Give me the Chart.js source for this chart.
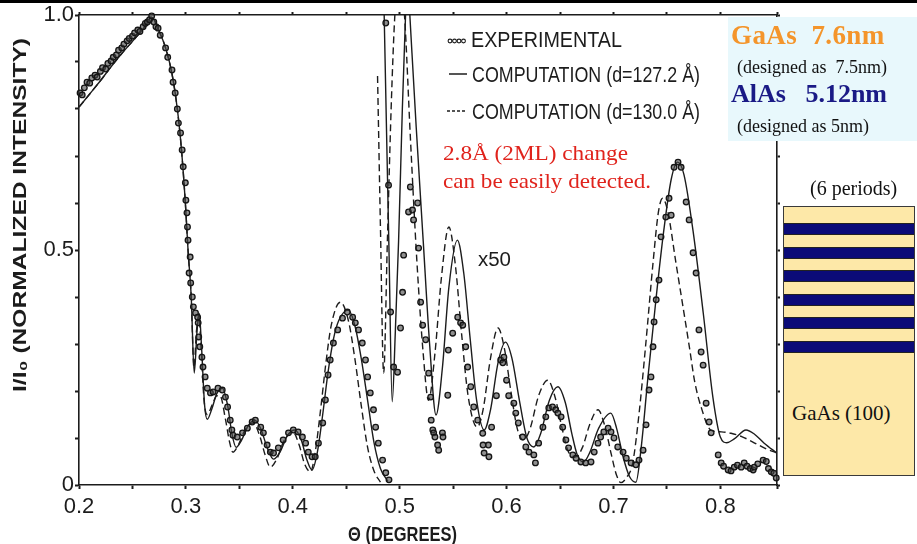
<!DOCTYPE html>
<html>
<head>
<meta charset="utf-8">
<script src="https://cdn.jsdelivr.net/npm/chart.js@4.4.1/dist/chart.umd.min.js"></script>
<style>
  html, body { margin: 0; padding: 0; background: #fff; }
  #wrap { position: relative; width: 917px; height: 544px; overflow: hidden; background: #fff; }
  #topbar { position: absolute; left: 0; top: 0; width: 917px; height: 3px; background: #000; }
  #chart { position: absolute; left: 0; top: 0; }
  .serif { position: absolute; font-family: "Liberation Serif", "Times New Roman", serif; white-space: pre; line-height: 1; }
  #infoBox { position: absolute; left: 728px; top: 17px; width: 189px; height: 124px; background: #e8f8fc; }
  #stack { position: absolute; left: 783px; top: 206px; width: 130px; height: 268px; background: #fde8a8; border: 1px solid #3a3a3a; }
  .stripe { position: absolute; left: 0; width: 130px; height: 10px; background: #0b0b78; border-top: 1px solid #222; border-bottom: 1px solid #222; }
</style>
</head>
<body>
<div id="wrap">
  <canvas id="chart" width="917" height="544"></canvas>
  <div id="topbar"></div>

  <div id="infoBox"></div>
  <div class="serif" style="left:731px; top:22px; font-size:27px; font-weight:bold; color:#f4952b; letter-spacing:0.4px;">GaAs  7.6nm</div>
  <div class="serif" style="left:737px; top:58px; font-size:18px; color:#111;">(designed as  7.5nm)</div>
  <div class="serif" style="left:731px; top:81px; font-size:26px; font-weight:bold; color:#1a1a86;">AlAs   5.12nm</div>
  <div class="serif" style="left:737px; top:117px; font-size:18px; color:#111;">(designed as 5nm)</div>

  <div class="serif" style="left:810px; top:178px; font-size:20px; color:#111;">(6 periods)</div>
  <div id="stack"></div>
  <div class="serif" style="left:792px; top:403px; font-size:21px; color:#111;">GaAs (100)</div>
</div>

<script>
// ==========================================
// DATOS (theta en grados, I/I0)
// ==========================================
const xTickLabels = ['0.2', '0.3', '0.4', '0.5', '0.6', '0.7', '0.8'];
const yTickLabels = ['0', '0.5', '1.0'];

// experimental, escala normal
const expMain = [
  [0.201,0.834],[0.203,0.830],[0.205,0.845],[0.2075,0.857],[0.210,0.855],[0.212,0.866],[0.215,0.872],
  [0.217,0.868],[0.220,0.880],[0.222,0.888],[0.225,0.885],[0.227,0.897],[0.230,0.902],[0.232,0.910],
  [0.235,0.915],[0.237,0.925],[0.240,0.930],[0.242,0.938],[0.245,0.945],[0.247,0.950],[0.250,0.955],
  [0.252,0.962],[0.255,0.968],[0.257,0.965],[0.260,0.975],[0.262,0.982],[0.264,0.985],[0.266,0.990],
  [0.268,0.998],[0.270,0.985],[0.272,0.975],[0.274,0.972],[0.276,0.957],[0.281,0.930],[0.283,0.910],
  [0.287,0.883],[0.288,0.857],[0.290,0.834],[0.292,0.800],[0.293,0.770],[0.295,0.749],[0.2965,0.713],
  [0.2975,0.677],[0.2995,0.643],[0.300,0.606],[0.301,0.579],[0.3015,0.549],[0.302,0.521],[0.303,0.451],
  [0.304,0.485],[0.3045,0.430],[0.306,0.400],[0.307,0.379],[0.309,0.366],[0.311,0.357],[0.3115,0.345],
  [0.312,0.315],[0.313,0.294],[0.315,0.272],[0.316,0.251],[0.318,0.230],[0.320,0.206],[0.323,0.196],
  [0.3255,0.198],[0.330,0.206],[0.334,0.202],[0.337,0.187],[0.339,0.166],[0.3415,0.138],[0.343,0.117],
  [0.344,0.106],[0.348,0.102],[0.353,0.111],[0.3575,0.121],[0.362,0.134],[0.365,0.138],[0.370,0.123],
  [0.3725,0.111],[0.376,0.085],[0.379,0.070],[0.382,0.068],[0.3865,0.079],[0.391,0.096],[0.396,0.111],
  [0.4005,0.117],[0.405,0.113],[0.409,0.102],[0.412,0.089],[0.4145,0.070],[0.418,0.060],[0.421,0.060],
  [0.424,0.089],[0.428,0.132],[0.4305,0.181],[0.433,0.234],[0.435,0.266],[0.438,0.302],[0.442,0.330],
  [0.4465,0.355],[0.451,0.368],[0.456,0.357],[0.4585,0.345],[0.4615,0.330],[0.465,0.302],[0.468,0.266],
  [0.470,0.230],[0.4725,0.196],[0.4755,0.160],[0.4775,0.123],[0.480,0.089],[0.484,0.053],[0.487,0.026],
  [0.490,0.011]
];

// experimental, x50
const expX50 = [
  [0.487,0.983],[0.4896,0.638],[0.4915,0.368],[0.4943,0.251],[0.498,0.240],[0.5008,0.334],[0.5027,0.410],
  [0.5037,0.489],[0.5083,0.581],[0.510,0.634],[0.512,0.585],[0.513,0.564],[0.5168,0.600],[0.5177,0.504],
  [0.5196,0.389],[0.5215,0.340],[0.5243,0.309],[0.5271,0.238],[0.529,0.187],[0.5295,0.138],[0.531,0.117],
  [0.5318,0.111],[0.533,0.102],[0.5355,0.085],[0.5365,0.074],[0.540,0.111],[0.5405,0.102],[0.545,0.191],
  [0.5455,0.287],[0.5496,0.323],[0.5543,0.357],[0.557,0.345],[0.559,0.340],[0.5618,0.294],[0.5636,0.251],
  [0.5665,0.209],[0.5693,0.166],[0.573,0.138],[0.5777,0.110],[0.578,0.085],[0.579,0.068],[0.583,0.085],
  [0.5835,0.060],[0.586,0.123],[0.5905,0.190],[0.5945,0.266],[0.5965,0.260],[0.5975,0.272],[0.600,0.223],
  [0.602,0.190],[0.6068,0.174],[0.6086,0.153],[0.611,0.132],[0.615,0.102],[0.618,0.081],[0.621,0.070],
  [0.6255,0.064],[0.627,0.047],[0.630,0.089],[0.634,0.123],[0.6367,0.145],[0.6395,0.164],[0.643,0.166],
  [0.646,0.160],[0.648,0.153],[0.651,0.145],[0.6525,0.123],[0.6555,0.096],[0.658,0.079],[0.662,0.064],
  [0.665,0.057],[0.6695,0.049],[0.674,0.047],[0.679,0.049],[0.682,0.070],[0.6855,0.089],[0.688,0.102],
  [0.691,0.113],[0.695,0.121],[0.6977,0.113],[0.7005,0.100],[0.704,0.081],[0.709,0.070],[0.712,0.057],
  [0.7165,0.047],[0.721,0.043],[0.7239,0.053],[0.7277,0.074],[0.7305,0.128],[0.7333,0.202],[0.7351,0.230],
  [0.737,0.294],[0.738,0.347],[0.740,0.394],[0.7426,0.436],[0.7445,0.528],[0.749,0.570],[0.752,0.610],
  [0.754,0.574],[0.7567,0.676],[0.7604,0.687],[0.7633,0.676],[0.768,0.602],[0.7708,0.564],[0.7745,0.494],
  [0.7773,0.451],[0.780,0.330],[0.782,0.283],[0.7839,0.255],[0.7867,0.174],[0.7895,0.134],[0.7914,0.111],
  [0.798,0.064],[0.8008,0.047],[0.803,0.040],[0.8073,0.032],[0.810,0.030],[0.813,0.038],[0.816,0.042],
  [0.8195,0.038],[0.8223,0.047],[0.825,0.040],[0.828,0.035],[0.8307,0.032],[0.8317,0.038],[0.835,0.045],
  [0.840,0.053],[0.843,0.050],[0.845,0.035],[0.8476,0.028],[0.850,0.025],[0.8523,0.015]
];

// calculo d=127.2 A (linea continua)
const solidMain = [
  [0.200,0.804],[0.210,0.832],[0.220,0.860],[0.230,0.890],[0.240,0.918],[0.250,0.944],[0.260,0.970],
  [0.268,0.995],[0.275,0.965],[0.281,0.930],[0.287,0.875],[0.292,0.800],[0.296,0.710],[0.2995,0.600],
  [0.302,0.500],[0.305,0.400],[0.3078,0.238],[0.3105,0.330],[0.3125,0.365],[0.3145,0.300],[0.3175,0.170],
  [0.320,0.140],[0.324,0.160],[0.329,0.195],[0.334,0.206],[0.339,0.170],[0.343,0.110],[0.347,0.080],
  [0.352,0.095],[0.358,0.125],[0.3645,0.138],[0.370,0.120],[0.376,0.080],[0.382,0.055],[0.388,0.070],
  [0.395,0.105],[0.402,0.117],[0.408,0.095],[0.413,0.055],[0.418,0.032],[0.423,0.070],[0.428,0.150],
  [0.433,0.240],[0.438,0.310],[0.443,0.350],[0.452,0.372],[0.458,0.340],[0.464,0.270],[0.470,0.180],
  [0.476,0.090],[0.482,0.035],[0.489,0.008]
];
const solidX50 = [
  [0.482,1.40],[0.4855,1.00],[0.488,0.72],[0.490,0.50],[0.493,0.177],[0.496,0.33],[0.499,0.52],
  [0.5025,0.80],[0.5055,1.00],[0.5075,1.08],[0.5095,1.00],[0.5155,0.76],[0.522,0.52],[0.528,0.30],
  [0.534,0.149],[0.540,0.25],[0.546,0.42],[0.554,0.521],[0.560,0.45],[0.566,0.31],[0.572,0.18],
  [0.579,0.117],[0.585,0.16],[0.592,0.26],[0.599,0.304],[0.605,0.27],[0.612,0.18],[0.619,0.10],
  [0.6255,0.081],[0.632,0.11],[0.640,0.18],[0.648,0.209],[0.655,0.175],[0.661,0.11],[0.666,0.065],
  [0.672,0.049],[0.678,0.07],[0.686,0.12],[0.6975,0.153],[0.703,0.12],[0.709,0.06],[0.715,0.018],
  [0.721,0.006],[0.726,0.081],[0.732,0.223],[0.740,0.40],[0.747,0.54],[0.754,0.65],[0.760,0.687],
  [0.766,0.66],[0.7745,0.54],[0.784,0.366],[0.793,0.187],[0.800,0.102],[0.806,0.09],[0.813,0.098],
  [0.824,0.117],[0.832,0.108],[0.841,0.089],[0.853,0.068]
];

// calculo d=130.0 A (linea discontinua)
const dashedMain = [
  [0.200,0.804],[0.210,0.832],[0.220,0.860],[0.230,0.890],[0.240,0.918],[0.250,0.944],[0.260,0.970],
  [0.268,0.995],[0.275,0.965],[0.281,0.930],[0.287,0.875],[0.292,0.800],[0.296,0.710],[0.2995,0.600],
  [0.302,0.500],[0.305,0.400],[0.3075,0.250],[0.310,0.330],[0.312,0.360],[0.314,0.300],[0.317,0.180],
  [0.320,0.150],[0.3245,0.170],[0.329,0.190],[0.332,0.190],[0.337,0.140],[0.341,0.090],[0.344,0.070],
  [0.349,0.085],[0.356,0.120],[0.363,0.132],[0.369,0.105],[0.374,0.065],[0.379,0.038],[0.385,0.055],
  [0.392,0.095],[0.400,0.113],[0.406,0.085],[0.411,0.045],[0.4165,0.028],[0.421,0.070],[0.426,0.160],
  [0.431,0.260],[0.436,0.340],[0.4445,0.389],[0.452,0.350],[0.458,0.270],[0.464,0.170],[0.470,0.080],
  [0.476,0.030],[0.482,0.006]
];
const dashedX50 = [
  [0.4793,0.87],[0.482,0.55],[0.485,0.238],[0.4885,0.52],[0.492,0.80],[0.4955,1.00],[0.500,1.10],
  [0.5045,1.00],[0.510,0.74],[0.516,0.48],[0.522,0.28],[0.527,0.18],[0.533,0.28],[0.539,0.44],
  [0.546,0.549],[0.552,0.47],[0.558,0.32],[0.564,0.19],[0.5725,0.123],[0.578,0.16],[0.585,0.27],
  [0.592,0.334],[0.598,0.29],[0.604,0.20],[0.610,0.12],[0.616,0.096],[0.622,0.12],[0.630,0.19],
  [0.6385,0.223],[0.645,0.19],[0.652,0.12],[0.658,0.07],[0.665,0.06],[0.671,0.08],[0.678,0.13],
  [0.6855,0.16],[0.692,0.125],[0.698,0.065],[0.703,0.02],[0.707,0.005],[0.712,0.015],[0.718,0.047],
  [0.724,0.153],[0.730,0.294],[0.737,0.472],[0.742,0.58],[0.746,0.61],[0.751,0.58],[0.7585,0.472],
  [0.765,0.38],[0.771,0.294],[0.776,0.22],[0.782,0.166],[0.791,0.117],[0.801,0.113],[0.810,0.11],
  [0.820,0.103],[0.830,0.092],[0.841,0.079],[0.853,0.068]
];

// ==========================================
// ESTILOS
// ==========================================
const SANS = '"Liberation Sans", Arial, sans-serif';
const INK = '#1c1c1c';
const toXY = arr => arr.map(p => ({ x: p[0], y: p[1] }));

const expStyle = {
    showLine: false,
    pointRadius: 2.8,
    pointBorderWidth: 1.3,
    pointBorderColor: '#151515',
    pointBackgroundColor: 'rgba(70, 70, 70, 0.6)',
    clip: false
};
const solidStyle = {
    showLine: true,
    borderColor: INK,
    borderWidth: 1.4,
    pointRadius: 0,
    cubicInterpolationMode: 'monotone'
};
const dashedStyle = { ...solidStyle, borderDash: [7, 4] };

// lineas del eje y marcas
const axisGrid = { drawOnChartArea: false, tickLength: 4, tickWidth: 2, tickColor: INK };
const axisBorder = { color: INK, width: 1.6 };

// texto ajustado a un ancho
function fitText(ctx, text, x, y, width) {
    const w = ctx.measureText(text).width;
    ctx.save();
    ctx.translate(x, y);
    ctx.scale(width / w, 1);
    ctx.fillText(text, 0, 0);
    ctx.restore();
}

const annotations = {
    id: 'annotations',
    afterDraw(chart) {
        const ctx = chart.ctx;
        ctx.save();
        ctx.fillStyle = INK;
        ctx.strokeStyle = INK;
        ctx.textAlign = 'left';
        ctx.textBaseline = 'alphabetic';

        // leyenda
        ctx.font = '22px ' + SANS;
        fitText(ctx, 'EXPERIMENTAL', 471, 47, 151);
        fitText(ctx, 'COMPUTATION (d=127.2 Å)', 472, 82, 228);
        fitText(ctx, 'COMPUTATION (d=130.0 Å)', 472, 119, 228);

        ctx.lineWidth = 1.1;
        [450, 454.5, 459, 463.5].forEach(cx => {
            ctx.beginPath();
            ctx.arc(cx, 41, 1.9, 0, Math.PI * 2);
            ctx.stroke();
        });
        ctx.lineWidth = 1.5;
        ctx.beginPath();
        ctx.moveTo(449, 74); ctx.lineTo(467, 74);
        ctx.stroke();
        ctx.setLineDash([3, 2]);
        ctx.beginPath();
        ctx.moveTo(447, 111); ctx.lineTo(467, 111);
        ctx.stroke();
        ctx.setLineDash([]);

        // factor x50
        ctx.font = '20px ' + SANS;
        fitText(ctx, 'x50', 478, 266, 33);

        // nota en rojo
        ctx.fillStyle = '#e0231c';
        ctx.font = '22px "Liberation Serif", "Times New Roman", serif';
        fitText(ctx, '2.8Å (2ML) change', 443, 160, 185);
        fitText(ctx, 'can be easily detected.', 443, 188, 208);

        // titulos de ejes
        ctx.fillStyle = INK;
        ctx.font = 'bold 19px ' + SANS;
        ctx.save();
        ctx.translate(26, 392);
        ctx.rotate(-Math.PI / 2);
        fitText(ctx, 'I/I₀ (NORMALIZED INTENSITY)', 0, 0, 354);
        ctx.restore();

        ctx.font = 'bold 20px ' + SANS;
        fitText(ctx, 'Θ (DEGREES)', 348, 541, 109);
        ctx.restore();
    }
};

// ==========================================
// GRAFICA
// ==========================================
const ctxMain = document.getElementById('chart').getContext('2d');
new Chart(ctxMain, {
    type: 'scatter',
    data: {
        datasets: [
            { label: 'EXPERIMENTAL', data: toXY(expMain), ...expStyle },
            { label: 'EXPERIMENTAL x50', data: toXY(expX50), ...expStyle },
            { label: 'COMPUTATION (d=127.2 Å)', data: toXY(solidMain), ...solidStyle },
            { label: 'COMPUTATION (d=127.2 Å) x50', data: toXY(solidX50), ...solidStyle },
            { label: 'COMPUTATION (d=130.0 Å)', data: toXY(dashedMain), ...dashedStyle },
            { label: 'COMPUTATION (d=130.0 Å) x50', data: toXY(dashedX50), ...dashedStyle }
        ]
    },
    options: {
        responsive: false,
        animation: false,
        layout: { padding: 0 },
        plugins: {
            legend: { display: false },
            tooltip: { enabled: false }
        },
        scales: {
            x: {
                type: 'linear', position: 'bottom', min: 0.2, max: 0.853,
                afterFit(s) { s.height = 59; },
                ticks: {
                    stepSize: 0.05, autoSkip: false, maxRotation: 0, padding: 5,
                    color: INK, font: { family: SANS, size: 22 },
                    callback: v => {
                        const t = Math.round(v * 100);
                        return t % 10 === 0 ? xTickLabels[(t - 20) / 10] : '';
                    }
                },
                grid: axisGrid, border: axisBorder
            },
            x2: {
                type: 'linear', position: 'top', min: 0.2, max: 0.853,
                afterFit(s) { s.height = 15; },
                ticks: { stepSize: 0.05, padding: 0, callback: () => '' },
                grid: { ...axisGrid, tickLength: 3 }, border: axisBorder
            },
            y: {
                min: 0, max: 1,
                afterFit(s) { s.width = 79; },
                ticks: {
                    stepSize: 0.1, autoSkip: false, padding: 1,
                    color: INK, font: { family: SANS, size: 22 },
                    callback: v => {
                        const t = Math.round(v * 10);
                        return t === 0 ? yTickLabels[0] : t === 5 ? yTickLabels[1] : t === 10 ? yTickLabels[2] : '';
                    }
                },
                grid: axisGrid, border: axisBorder
            },
            y2: {
                position: 'right', min: 0, max: 1,
                afterFit(s) { s.width = 140; },
                ticks: { stepSize: 0.1, padding: 0, callback: () => '' },
                grid: { ...axisGrid, tickLength: 3 }, border: axisBorder
            }
        }
    },
    plugins: [annotations]
});

// ==========================================
// ESQUEMA DE CAPAS (6 periodos)
// ==========================================
const stack = document.getElementById('stack');
for (let i = 0; i < 6; i++) {
    const s = document.createElement('div');
    s.className = 'stripe';
    s.style.top = (16 + i * 23.6) + 'px';
    stack.appendChild(s);
}
</script>
</body>
</html>
